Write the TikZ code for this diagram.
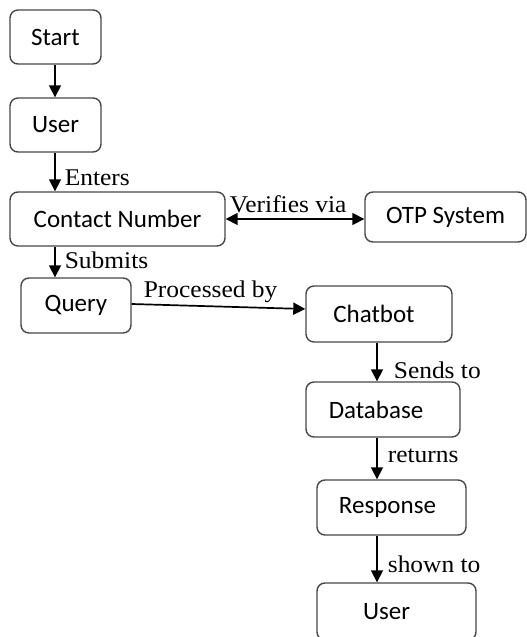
\documentclass[tikz,border=0pt]{standalone}
\usepackage{fontspec}
\setmainfont{Carlito}
\newfontfamily\lblfont[FakeStretch=1.06]{Liberation Serif}
\usetikzlibrary{arrows.meta}
\tikzset{
  box/.style={draw=black!72, line width=1.4pt, rounded corners=8pt, fill=white,
    inner sep=0pt, font=\fontsize{25}{30}\selectfont},
  tip/.tip={Triangle[length=12pt,width=12pt]},
  arr/.style={line width=1.7pt, -tip},
  darr/.style={line width=1.7pt, tip-tip},
  lbl/.style={anchor=base west, inner sep=0pt, font=\lblfont\fontsize{24}{28}\selectfont}
}
\begin{document}
\begin{tikzpicture}[x=1pt,y=-1pt]
\useasboundingbox (0,0) rectangle (527,637);
\fill[white] (0,0) rectangle (527,637);
\node[box, minimum width=91pt, minimum height=54pt] (start) at (55.5,37) {Start};
\node[box, minimum width=91pt, minimum height=54pt] (user1) at (55.5,125) {User};
\node[box, minimum width=215pt, minimum height=54pt] (contact) at (117.5,219) {Contact Number};
\node[box, minimum width=161pt, minimum height=50pt] (otp) at (445.5,217) {OTP System};
\node[box, minimum width=110pt, minimum height=55pt] (query) at (76,305.5) {Query};
\node[box, minimum width=146pt, minimum height=56pt] (chatbot) at (379,314) {\hspace*{-10pt}Chatbot};
\node[box, minimum width=154pt, minimum height=55pt] (database) at (383,409.5) {\hspace*{-14pt}Database};
\node[box, minimum width=149pt, minimum height=55pt] (response) at (391.5,507.5) {\hspace*{-8pt}Response};
\node[box, minimum width=159pt, minimum height=57pt] (user2) at (396.5,611.5) {\hspace*{-20pt}User};
\coordinate (ax) at (377,0);
\coordinate (lx) at (55,0);

\draw[arr] (start.south -| lx) -- (user1.north -| lx);
\draw[arr] (user1.south -| lx) -- (contact.north -| lx) node[lbl] at (64,185) {Enters};
\draw[arr] (contact.south -| lx) -- (query.north -| lx) node[lbl] at (64,268) {Submits};
\draw[darr] (contact.east) -- (contact.east -| otp.west) node[lbl] at (229,212) {Verifies via};
\draw[arr] ([yshift=1.5pt]query.east) -- ([yshift=5pt]chatbot.west) node[lbl] at (143,297) {Processed by};
\draw[arr] (chatbot.south -| ax) -- (database.north -| ax) node[lbl] at (393,378) {Sends to};
\draw[arr] (database.south -| ax) -- (response.north -| ax) node[lbl] at (387,462) {returns};
\draw[arr] (response.south -| ax) -- (user2.north -| ax) node[lbl] at (387,572) {shown to};
\end{tikzpicture}
\end{document}
